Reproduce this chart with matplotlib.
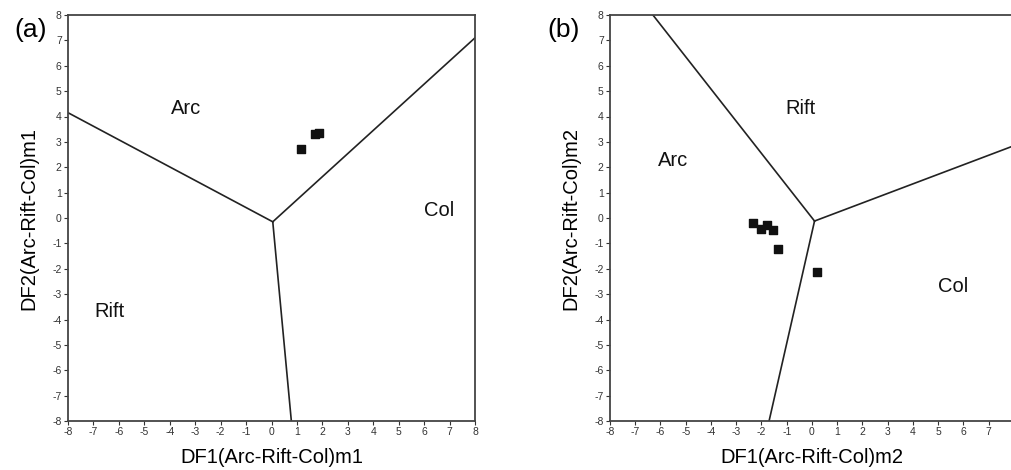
import matplotlib
matplotlib.use('Agg')
import matplotlib.pyplot as plt
import numpy as np

plt.rcParams.update({'font.family': ['Liberation Sans', 'DejaVu Sans'],
                     'axes.unicode_minus': False})

# boundary lines: centre + three end points
center_a = (0.05, -0.15)
ends_a = [(-8, 4.15), (8, 7.1), (0.78, -8)]
center_b = (0.1, -0.12)
ends_b = [(-6.3, 8), (8, 2.85), (-1.7, -8)]

pts_a_x = [1.15, 1.72, 1.87]
pts_a_y = [2.72, 3.32, 3.34]
pts_b_x = [-2.35, -2.03, -1.77, -1.54, -1.34, 0.21]
pts_b_y = [-0.18, -0.44, -0.27, -0.46, -1.22, -2.13]

labels_a = [('Arc', -3.35, 4.3), ('Col', 6.6, 0.28), ('Rift', -6.35, -3.7)]
labels_b = [('Rift', -0.45, 4.3), ('Arc', -5.5, 2.25), ('Col', 5.6, -2.7)]

ticks = np.arange(-8, 9)

fig = plt.figure(figsize=(10.12, 4.70), dpi=100)
ax_a = fig.add_axes([68/1012, 49/470, 407/1012, 406/470])
ax_b = fig.add_axes([610/1012, 49/470, 404/1012, 406/470])

panels = [
    (ax_a, center_a, ends_a, pts_a_x, pts_a_y, labels_a, '(a)', 'm1', -0.093),
    (ax_b, center_b, ends_b, pts_b_x, pts_b_y, labels_b, '(b)', 'm2', -0.114),
]

for ax, c, ends, px, py, labs, tag, suffix, tag_x in panels:
    for ex, ey in ends:
        ax.plot([c[0], ex], [c[1], ey], color='#222222', lw=1.2)
    ax.scatter(px, py, marker='s', s=28, color='#111111', zorder=3)
    for t, x, y in labs:
        ax.text(x, y, t, fontsize=14.5, ha='center', va='center', color='#111111')
    ax.set_xlim(-8, 8)
    ax.set_ylim(-8, 8)
    ax.set_xticks(ticks)
    ax.set_yticks(ticks)
    ax.tick_params(labelsize=7.5, length=3, width=0.8, direction='out', pad=1.5,
                   colors='#333333')
    for sp in ax.spines.values():
        sp.set_color('#444444')
        sp.set_linewidth(1.3)
    ax.set_xlabel(f'DF1(Arc-Rift-Col){suffix}', fontsize=14.5, labelpad=8)
    ax.set_ylabel(f'DF2(Arc-Rift-Col){suffix}', fontsize=14.5, labelpad=10)
    ax.text(tag_x, 0.963, tag, transform=ax.transAxes, fontsize=19,
            ha='center', va='center')

# the right edge of panel (b) falls off the figure, so its last label is dropped
ax_b.set_xticklabels([str(t) if t < 8 else '' for t in ticks])

fig.savefig('out.png', dpi=100)
